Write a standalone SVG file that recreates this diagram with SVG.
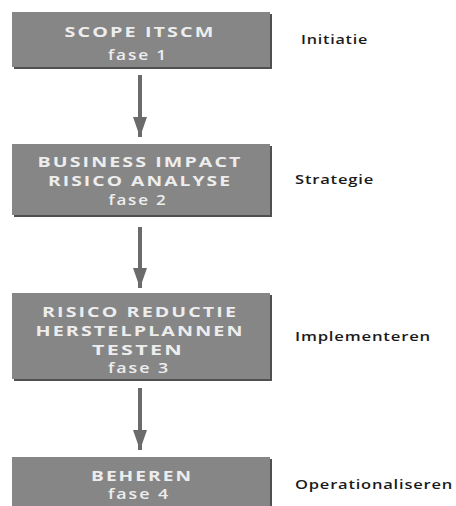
<svg xmlns="http://www.w3.org/2000/svg" width="456" height="506" viewBox="0 0 456 506">
  <style>
    .box { fill: #868686; }
    .shadow { fill: #505050; }
    .title { font-family: "Open Sans", "DejaVu Sans", sans-serif; font-weight: 700; font-size: 14px; letter-spacing: 1.5px; fill: #ededed; text-anchor: middle; }
    .fase { font-family: "Open Sans", "DejaVu Sans", sans-serif; font-weight: 600; font-size: 14px; letter-spacing: 1.5px; fill: #ededed; text-anchor: middle; }
    .label { font-family: "Open Sans", "DejaVu Sans", sans-serif; font-weight: 600; font-size: 12.5px; letter-spacing: 0.6px; fill: #1a1a1a; }
    .conn { stroke: #6b6b6b; stroke-width: 4; fill: none; }
    .head { fill: #6b6b6b; }
  </style>
  <defs>
    <marker id="arrow" viewBox="0 0 20 14" refX="20" refY="7" markerWidth="20" markerHeight="14" markerUnits="userSpaceOnUse" orient="auto">
      <path class="head" d="M0,0 L20,7 L0,14 Z"/>
    </marker>
  </defs>
  <rect width="456" height="506" fill="#ffffff"/>

  <g id="fase1">
    <rect class="shadow" x="14" y="14" width="258" height="55"/>
    <rect class="box" x="12" y="12" width="258" height="55"/>
    <text class="title" x="140" y="37" textLength="151" lengthAdjust="spacingAndGlyphs">SCOPE ITSCM</text>
    <text class="fase" x="138" y="60" textLength="60" lengthAdjust="spacingAndGlyphs">fase 1</text>
    <text class="label" x="301" y="44" textLength="67" lengthAdjust="spacingAndGlyphs">Initiatie</text>
  </g>

  <g id="fase2">
    <rect class="shadow" x="14" y="146" width="258" height="71"/>
    <rect class="box" x="12" y="144" width="258" height="71"/>
    <text class="title" x="140" y="167" textLength="205" lengthAdjust="spacingAndGlyphs">BUSINESS IMPACT</text>
    <text class="title" x="140" y="186" textLength="184" lengthAdjust="spacingAndGlyphs">RISICO ANALYSE</text>
    <text class="fase" x="138" y="205" textLength="59" lengthAdjust="spacingAndGlyphs">fase 2</text>
    <text class="label" x="295" y="184" textLength="79" lengthAdjust="spacingAndGlyphs">Strategie</text>
  </g>

  <g id="fase3">
    <rect class="shadow" x="14" y="295" width="258" height="86"/>
    <rect class="box" x="12" y="293" width="258" height="86"/>
    <text class="title" x="140" y="317" textLength="196" lengthAdjust="spacingAndGlyphs">RISICO REDUCTIE</text>
    <text class="title" x="140" y="336" textLength="209" lengthAdjust="spacingAndGlyphs">HERSTELPLANNEN</text>
    <text class="title" x="138" y="355" textLength="92" lengthAdjust="spacingAndGlyphs">TESTEN</text>
    <text class="fase" x="139" y="373" textLength="62" lengthAdjust="spacingAndGlyphs">fase 3</text>
    <text class="label" x="295" y="341" textLength="136" lengthAdjust="spacingAndGlyphs">Implementeren</text>
  </g>

  <g id="fase4">
    <rect class="shadow" x="14" y="459" width="258" height="50"/>
    <rect class="box" x="12" y="457" width="258" height="50"/>
    <text class="title" x="142" y="481" textLength="102" lengthAdjust="spacingAndGlyphs">BEHEREN</text>
    <text class="fase" x="139" y="499" textLength="62" lengthAdjust="spacingAndGlyphs">fase 4</text>
    <text class="label" x="295" y="489" textLength="158" lengthAdjust="spacingAndGlyphs">Operationaliseren</text>
  </g>

  <g id="connectors">
    <line class="conn" x1="140" y1="75" x2="140" y2="137" marker-end="url(#arrow)"/>
    <line class="conn" x1="140" y1="227" x2="140" y2="288" marker-end="url(#arrow)"/>
    <line class="conn" x1="140" y1="388" x2="140" y2="450" marker-end="url(#arrow)"/>
  </g>
</svg>
